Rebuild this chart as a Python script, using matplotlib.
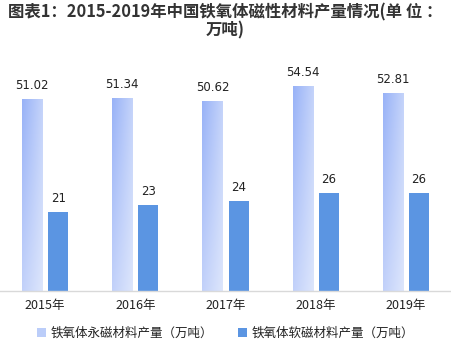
import matplotlib
matplotlib.use("Agg")
import matplotlib.pyplot as plt
import numpy as np
from matplotlib.patches import Patch

plt.rcParams['font.family'] = ['Noto Sans CJK SC', 'DejaVu Sans']

years = ['2015年', '2016年', '2017年', '2018年', '2019年']
permanent = [51.02, 51.34, 50.62, 54.54, 52.81]
soft = [21, 23, 24, 26, 26]
series_names = ['铁氧体永磁材料产量（万吨）', '铁氧体软磁材料产量（万吨）']
title = '图表1：2015-2019年中国铁氧体磁性材料产量情况(单 位 ：\n万吨)'

fig = plt.figure(figsize=(4.51, 3.51), dpi=100)
ax = fig.add_axes([0.0, 60/351, 1.0, (291-73)/351])

x = np.arange(len(years))
w = 0.222
off = 0.145
soft_color = '#5B95E2'

# gradient image for permanent bars
tl = np.array([0x98, 0xB2, 0xF7]) / 255
tr = np.array([0xC4, 0xD3, 0xFA]) / 255
bl = np.array([0xC2, 0xD1, 0xFA]) / 255
br = np.array([0xDD, 0xE6, 0xFC]) / 255
nx, ny = 40, 100
u = np.linspace(0, 1, nx)[None, :, None]
v = np.linspace(0, 1, ny)[:, None, None]  # 0 top, 1 bottom
grad = (1-u)*(1-v)*tl + u*(1-v)*tr + (1-u)*v*bl + u*v*br

bars1 = ax.bar(x - off, permanent, w, color='none', edgecolor='none')
for b in bars1:
    x0, y0 = b.get_x(), b.get_y()
    im = ax.imshow(grad, extent=[x0, x0 + b.get_width(), y0, y0 + b.get_height()],
                   aspect='auto', zorder=2, interpolation='bilinear')
    im.set_clip_path(b)
bars2 = ax.bar(x + off, soft, w, color=soft_color, zorder=2)

for b, val in zip(bars1, permanent):
    ax.annotate(f'{val:.2f}', (b.get_x() + b.get_width()/2, b.get_height()),
                xytext=(0, 5), textcoords='offset points', ha='center', va='bottom',
                fontsize=8.5, color='#222222', family=['DejaVu Sans'])
for b, val in zip(bars2, soft):
    ax.annotate(f'{val}', (b.get_x() + b.get_width()/2, b.get_height()),
                xytext=(0, 5), textcoords='offset points', ha='center', va='bottom',
                fontsize=8.5, color='#222222', family=['DejaVu Sans'])

ax.set_xlim(-0.5, len(years) - 0.5)
ax.set_ylim(0, 58)
ax.set_xticks(x)
ax.set_xticklabels(years, fontsize=9, color='#222222')
ax.tick_params(axis='x', length=0, pad=6)
ax.set_yticks([])
for s in ['top', 'left', 'right']:
    ax.spines[s].set_visible(False)
ax.spines['bottom'].set_color('#D9D9D9')
ax.spines['bottom'].set_linewidth(1)

handles = [Patch(facecolor='#BBCDF9', edgecolor='none'),
           Patch(facecolor=soft_color, edgecolor='none')]
fig.legend(handles, series_names, loc='center', bbox_to_anchor=(0.5, 1 - 333/351),
           ncol=2, frameon=False, fontsize=9, handlelength=0.7, handleheight=0.7,
           handletextpad=0.4, columnspacing=2.0, labelcolor='#222222')

fig.text(0.5, 1 - 3/351, title, ha='center', va='top', fontsize=11.8,
         fontweight='bold', color='#333333', linespacing=1.0)

fig.savefig('out.png', dpi=100)
